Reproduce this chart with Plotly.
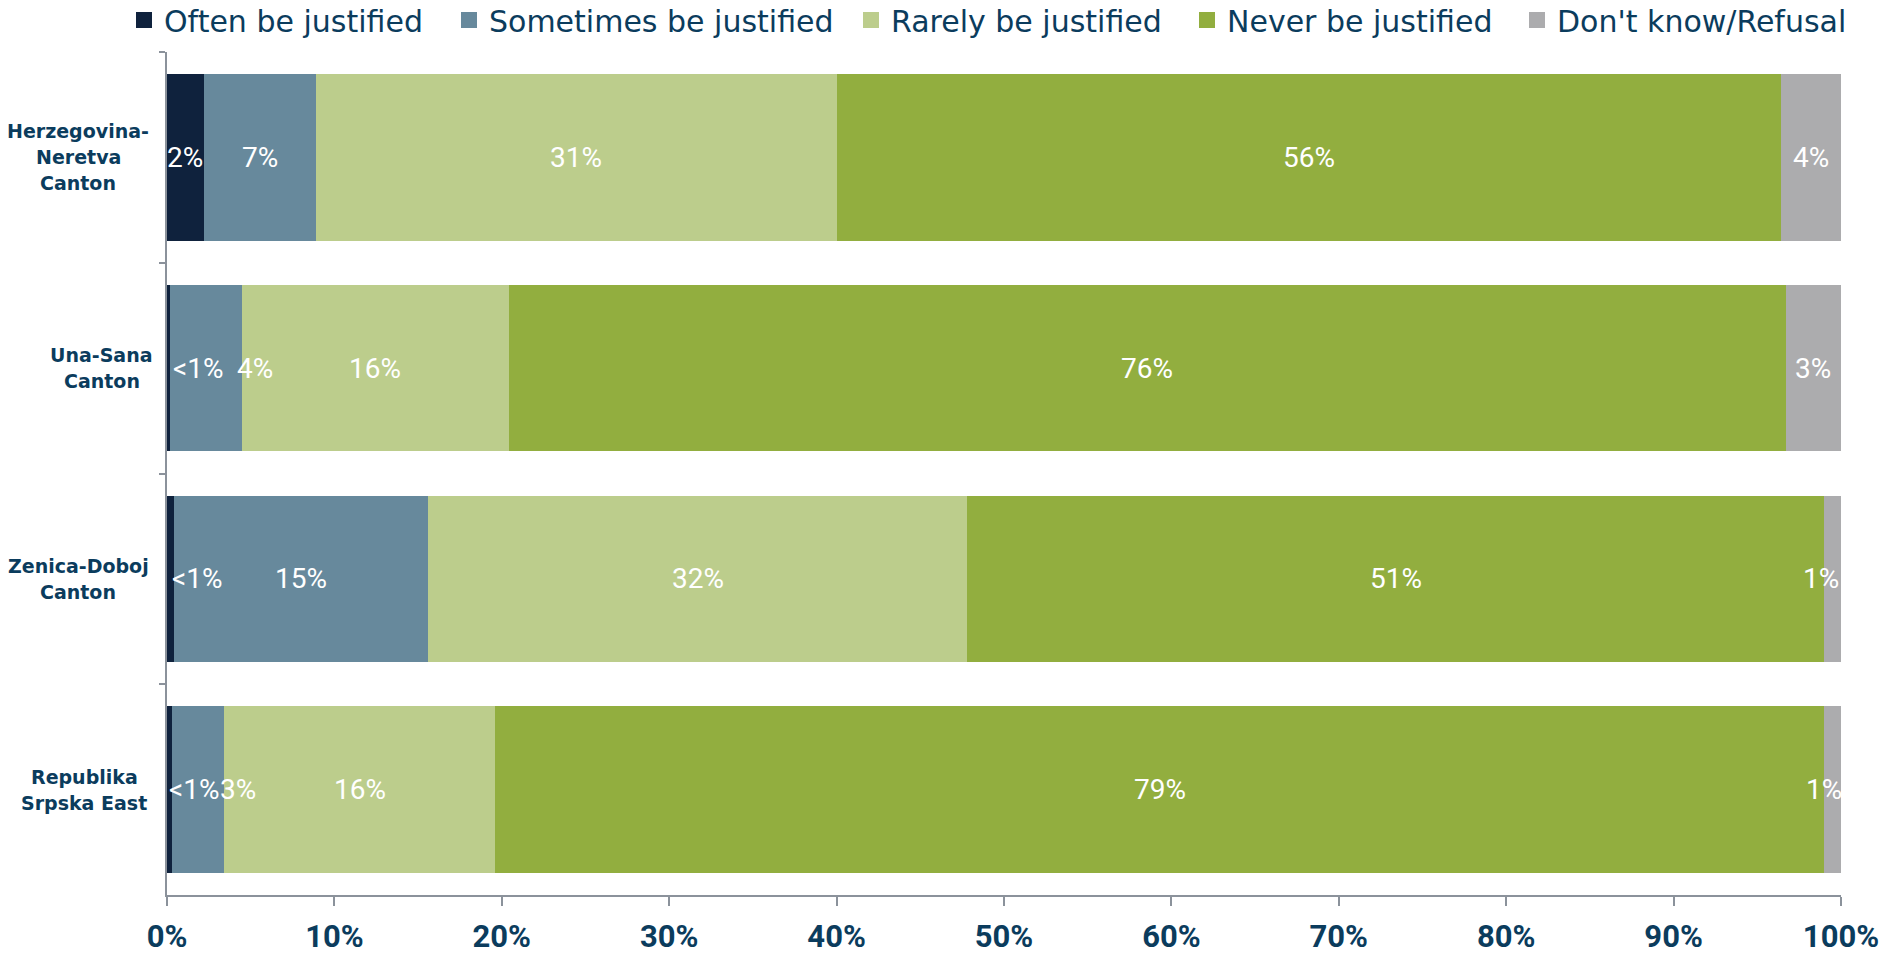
import plotly.graph_objects as go

categories = ["Herzegovina-<br>Neretva<br>Canton", "Una-Sana<br>Canton", "Zenica-Doboj<br>Canton", "Republika<br>Srpska East"]
series_names = ["Often be justified", "Sometimes be justified", "Rarely be justified", "Never be justified", "Don't know/Refusal"]
often = [2.2, 0.2, 0.4, 0.3]
sometimes = [6.7, 4.3, 15.2, 3.1]
rarely = [31.1, 15.9, 32.2, 16.2]
never = [56.4, 76.3, 51.2, 79.4]
dontknow = [3.6, 3.3, 1.0, 1.0]
often_labels = ["2%", "<1%", "<1%", "<1%"]
sometimes_labels = ["7%", "4%", "15%", "3%"]
rarely_labels = ["31%", "16%", "32%", "16%"]
never_labels = ["56%", "76%", "51%", "79%"]
dontknow_labels = ["4%", "3%", "1%", "1%"]
x_ticks = [0, 10, 20, 30, 40, 50, 60, 70, 80, 90, 100]
x_tick_labels = ["0%", "10%", "20%", "30%", "40%", "50%", "60%", "70%", "80%", "90%", "100%"]

colors = ["#0f223d", "#67899c", "#bccd8c", "#92ae3f", "#acacae"]
# label nudges (pixels) to mimic manually moved data labels
label_shift = [
    [0, 29, 27, 24],
    [0, 49, 0, 40],
    [0, 0, 0, 0],
    [0, 0, 0, 0],
    [0, 0, -12, -9],
]
# legend entry left positions (px, container)
legend_left_px = [124, 449, 851, 1187, 1517]
CAT_LINE_H = 26

values = [often, sometimes, rarely, never, dontknow]
labels = [often_labels, sometimes_labels, rarely_labels, never_labels, dontknow_labels]

W, H = 1892, 957
TEXT = "#0b3c5d"
AXIS = "#8b929b"
LBL_FONT = "Roboto, sans-serif"

fig = go.Figure()
for name, vals, col in zip(series_names, values, colors):
    fig.add_trace(go.Bar(
        y=categories, x=vals, name=name, orientation="h",
        marker=dict(color=col, line=dict(width=0)),
        showlegend=False, hoverinfo="x+name",
    ))

legend_layouts = {}
for i, (name, col) in enumerate(zip(series_names, colors)):
    lg = "legend" if i == 0 else f"legend{i + 1}"
    fig.add_trace(go.Scatter(
        x=[None], y=[None], mode="markers", name=name,
        marker=dict(symbol="square", size=16, color=col),
        showlegend=True, legend=lg,
    ))
    legend_layouts[lg] = dict(
        orientation="h", xref="container", yref="container",
        x=legend_left_px[i] / W, xanchor="left", y=1 - 20 / H, yanchor="middle",
        font=dict(family="DejaVu Sans", size=30, color=TEXT),
        itemsizing="trace", bgcolor="rgba(0,0,0,0)",
    )

annotations = []
cum = [0.0] * len(categories)
for si, (vals, labs) in enumerate(zip(values, labels)):
    for ci, cat in enumerate(categories):
        mid = cum[ci] + vals[ci] / 2
        annotations.append(dict(
            x=mid, y=cat, xref="x", yref="y", text=labs[ci], showarrow=False,
            xshift=label_shift[si][ci],
            font=dict(family=LBL_FONT, size=28, color="white"),
        ))
        cum[ci] += vals[ci]

# category labels: one annotation per line, centred block to the left of the axis
for cat in categories:
    lines = cat.split("<br>")
    n = len(lines)
    block = "<br>".join(lines)
    for li, line in enumerate(lines):
        # pad with invisible copy of longest line to keep block centring
        annotations.append(dict(
            x=0, y=cat, xref="paper", yref="y", text=line, showarrow=False,
            xanchor="center", xshift=-18 - 0, yshift=((n - 1) / 2 - li) * CAT_LINE_H,
            font=dict(family="DejaVu Sans", size=19, color=TEXT, weight="bold"),
            width=None,
        ))

fig.update_layout(
    barmode="stack",
    bargap=0.21,
    width=W, height=H,
    margin=dict(l=167, r=51, t=52, b=62, autoexpand=False),
    plot_bgcolor="white", paper_bgcolor="white",
    xaxis=dict(
        range=[0, 100], tickvals=x_ticks, ticktext=x_tick_labels,
        showgrid=False, zeroline=False,
        showline=True, linecolor=AXIS, linewidth=2,
        ticks="outside", ticklen=9, tickcolor=AXIS, tickwidth=2,
        ticklabelstandoff=4,
        tickfont=dict(family="Roboto", size=31, color=TEXT, weight="bold"),
    ),
    yaxis=dict(
        autorange="reversed", showticklabels=False,
        showgrid=False, zeroline=False,
        showline=True, linecolor=AXIS, linewidth=2,
        ticks="outside", ticklen=6, tickcolor=AXIS, tickwidth=2,
        tickson="boundaries",
    ),
    **legend_layouts,
)

# centre each multi-line category block: block centre x = axis - 18 - half of widest line
# (widest line width estimated from character count, DejaVu Sans Bold ~0.62em per char)
new_ann = list(annotations)
final = []
for a in new_ann:
    if a.get("xref") == "paper":
        cat = a["y"]
        widest = max(len(s) for s in cat.split("<br>"))
        half = widest * 0.62 * 19 / 2
        a = dict(a)
        a["xshift"] = -18 - half
        a.pop("width", None)
    final.append(a)
fig.update_layout(annotations=final)

fig.write_html(
    "out.html",
    config={"displayModeBar": False},
    post_script="document.body.style.margin='0';document.body.style.overflow='hidden';",
)
